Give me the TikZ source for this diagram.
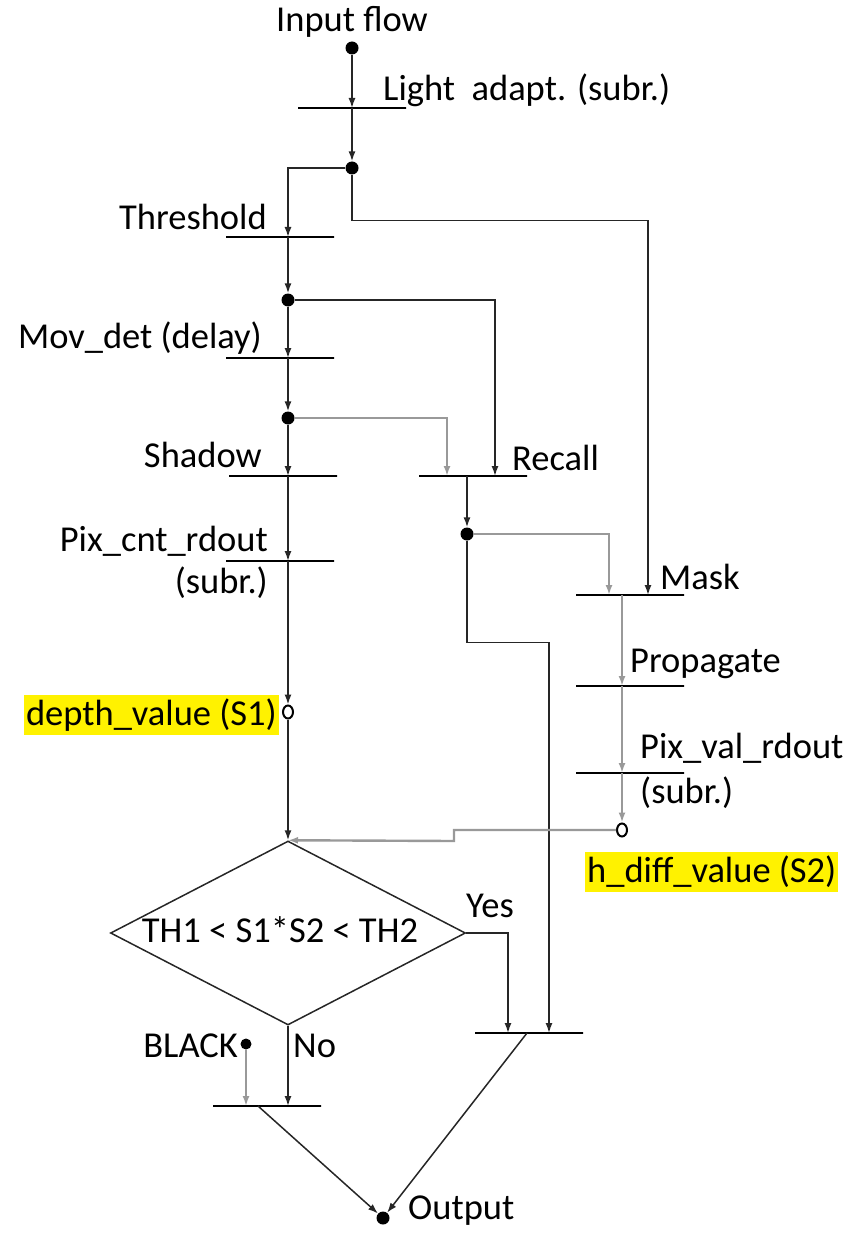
\documentclass[tikz,border=0pt]{standalone}
\usepackage{fontspec}
\setmainfont{Carlito}
\usetikzlibrary{arrows.meta,shapes.geometric,calc}
\begin{document}
\begin{tikzpicture}[x=1pt,y=-1pt,
  txt/.style={font=\fontsize{36.5}{43}\selectfont, inner sep=0pt},
  hl/.style={txt, fill=yellow, inner xsep=2pt, inner ysep=4pt},
  bar/.style={draw, line width=2.2pt, minimum height=0pt, inner sep=0pt, minimum width=108pt},
  ln/.style={line width=1.5pt, draw=black!85},
  gln/.style={line width=2.4pt, draw=black!40},
  arr/.style={-{Latex[length=10pt,width=7pt]}},
  dot/.style={circle, fill=black, inner sep=0pt, minimum size=13pt},
  odot/.style={ellipse, draw=black, fill=white, line width=2pt, inner sep=0pt, minimum width=10pt, minimum height=13pt}
]
\useasboundingbox (0,0) rectangle (848,1233);

% texts
\node[txt] (tin) at (352,22) {Input flow};
\node[txt, anchor=west] (tla) at (383,90) {Light\ \ adapt. (subr.)};
\node[txt, anchor=east] (tth) at (267,217) {Threshold};
\node[txt, anchor=east] (tmd) at (262,338) {Mov\_det (delay)};
\node[txt, anchor=east] (tsh) at (262,455) {Shadow};
\node[txt, anchor=west] (trc) at (512,458) {Recall};
\node[txt, anchor=east] (tpc) at (268,541) {Pix\_cnt\_rdout};
\node[txt, anchor=east] (tpc2) at (268,583) {(subr.)};
\node[txt, anchor=west] (tmk) at (660,577) {Mask};
\node[txt, anchor=west] (tpr) at (630,664) {Propagate};
\node[txt, anchor=west] (tpv) at (640,748) {Pix\_val\_rdout};
\node[txt, anchor=west] (tpv2) at (640,793) {(subr.)};
\node[hl, anchor=east] (ts1) at (279,715) {depth\_value (S1)};
\node[hl, anchor=west] (ts2) at (585,872) {h\_diff\_value (S2)};
\node[txt] (tyes) at (490,906) {Yes};
\node[txt, anchor=east] (tblk) at (238,1046) {BLACK};
\node[txt, anchor=west] (tno) at (293,1046) {No};
\node[txt, anchor=west] (tout) at (408,1211) {Output};

% bars
\node[bar] (la) at (352,108) {};
\node[bar] (th) at (280,237) {};
\node[bar] (md) at (280,358) {};
\node[bar] (sh) at (283,476) {};
\node[bar] (rc) at (473,476) {};
\node[bar] (pc) at (280,561) {};
\node[bar] (mk) at (630,595) {};
\node[bar] (pr) at (630,686) {};
\node[bar] (pv) at (630,773) {};
\node[bar] (ob) at (529,1033) {};
\node[bar] (ol) at (267,1106) {};

% dots
\node[dot] (in) at (352,48) {};
\node[dot] (d1) at (352,168) {};
\node[dot] (d2) at (288,300) {};
\node[dot] (d3) at (288,418) {};
\node[dot] (d4) at (467,534) {};
\node[odot] (s1) at (288,712) {};
\node[odot] (s2) at (622,830) {};
\node[dot, minimum size=11pt] (blk) at (246,1044) {};
\node[dot] (out) at (383,1218) {};

% decision
\node[draw, diamond, line width=1.5pt, draw=black!85, minimum width=355pt, minimum height=184pt, inner sep=0pt] (dec) at (288,933) {};
\node[txt] (tdec) at (280,930) {TH1 < S1*S2 < TH2};

% connection points on bars
\coordinate (thi) at (288,237);
\coordinate (mdi) at (288,358);
\coordinate (shi) at (288,476);
\coordinate (pci) at (288,561);
\coordinate (rc1) at (447,476);
\coordinate (rc2) at (495,476);
\coordinate (rco) at (467,476);
\coordinate (mk1) at (609,595);
\coordinate (mk2) at (648,595);
\coordinate (mko) at (622,595);
\coordinate (pri) at (622,686);
\coordinate (pvi) at (622,773);
\coordinate (ob1) at (508,1033);
\coordinate (ob2) at (549,1033);
\coordinate (obo) at (527,1033);
\coordinate (ol1) at (246,1106);
\coordinate (ol2) at (288,1106);
\coordinate (olo) at (258,1106);

% connectors
\draw[ln,arr] (in) -- (la.center);
\draw[ln,arr] (la.center) -- (d1);
\draw[ln,arr] (d1) -| (thi);
\draw[ln,arr] (d1.south) -- ++(0,46) -| (mk2);
\draw[ln,arr] (thi) -- (d2);
\draw[ln,arr] (d2) -| (rc2);
\draw[ln,arr] (d2) -- (mdi);
\draw[ln,arr] (mdi) -- (d3);
\draw[gln,arr] (d3) -| (rc1);
\draw[ln,arr] (d3) -- (shi);
\draw[ln,arr] (shi) -- (pci);
\draw[ln,arr] (pci) -- (s1);
\draw[ln,arr] (s1) -- (dec.north);
\draw[ln,arr] (rco) -- (d4);
\draw[gln,arr] (d4) -| (mk1);
\draw[ln,arr] (d4.south) -- ++(0,102) -| (ob2);
\draw[gln,arr] (mko) -- (pri);
\draw[gln,arr] (pri) -- (pvi);
\draw[gln,arr] (pvi) -- (s2);
\draw[gln,arr] (s2.west) -- ++(-162,0) -- ++(0,11) -- (dec.north);
\draw[ln,arr] (dec.east) -| (ob1);
\draw[ln,arr] (dec.south) -- (ol2);
\draw[gln,arr] (blk) -- (ol1);
\draw[ln,arr] (olo) -- (out);
\draw[ln,arr] (obo) -- (out);
\end{tikzpicture}
\end{document}
